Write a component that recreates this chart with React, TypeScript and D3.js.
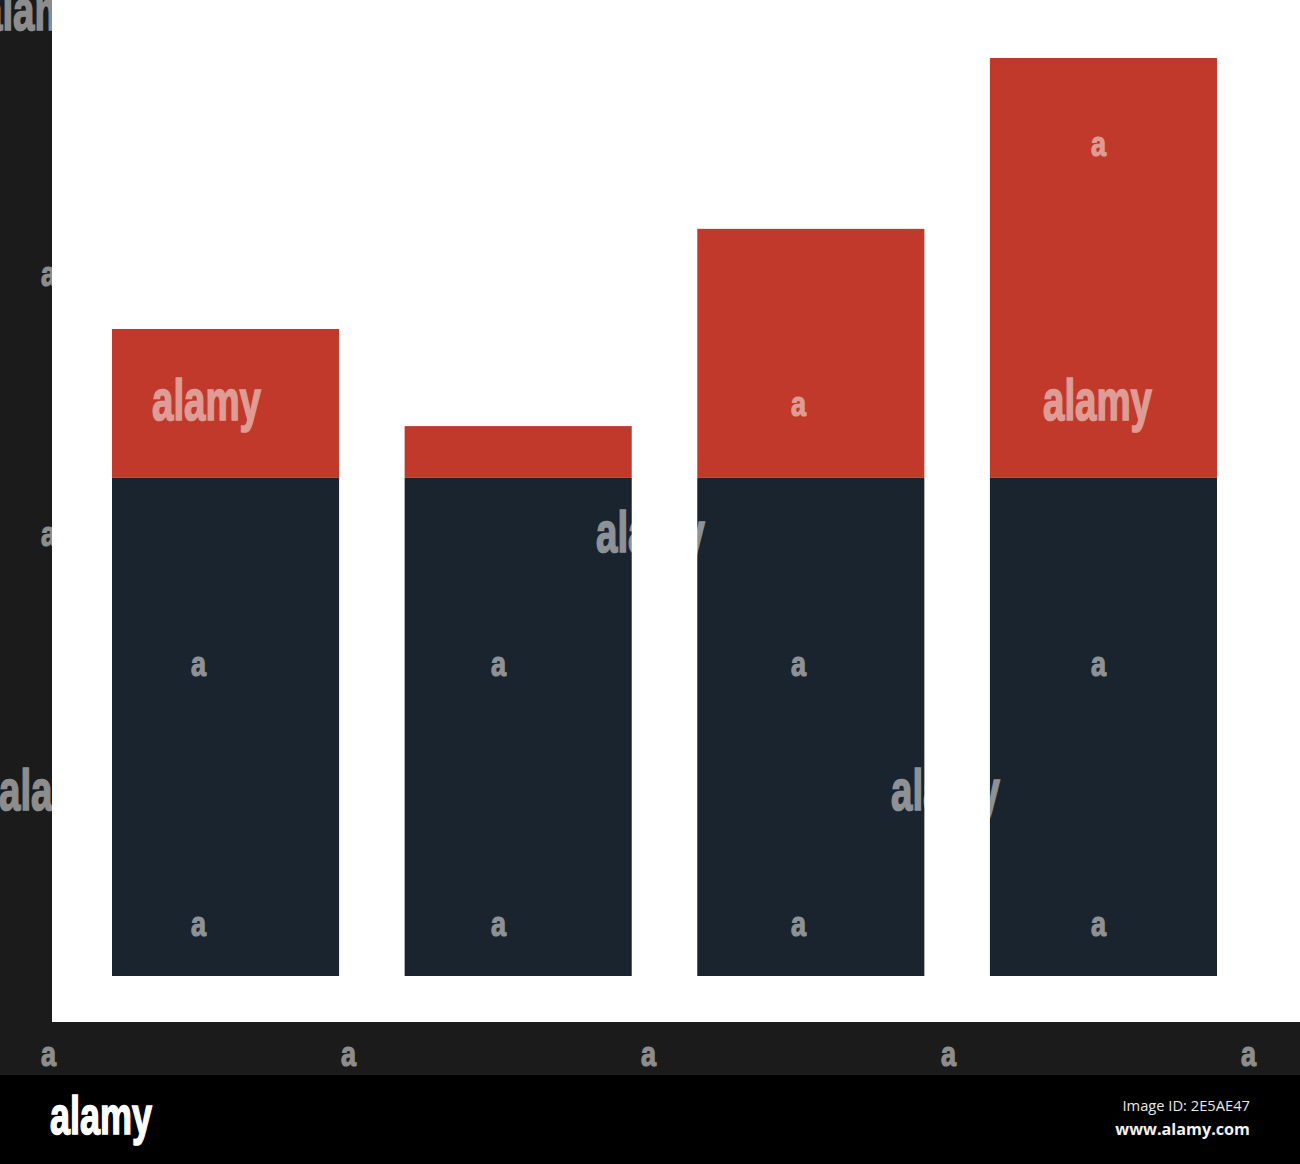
import React from 'react'

import * as d3 from 'd3'

const categories = ['A', 'B', 'C', 'D']
const baseValues = [100, 100, 100, 100]
const topValues = [29.9, 10.4, 50, 84.3]

const width = 1300
const height = 1164

const x = d3.scaleBand<string>().domain(categories).range([112, 1217]).paddingInner(0.224).paddingOuter(0)
const y = d3.scaleLinear().domain([0, 184.3]).range([976, 58])

const stack = d3.stack<any>().keys(['base', 'top'])
const rows = categories.map((c, i) => ({ cat: c, base: baseValues[i], top: topValues[i] }))
const layers = stack(rows)
const colors = ['#1a242e', '#c0392b']

// watermark stamps, white at half opacity so they vanish on the white background
const bigMarks = [
  [152, 420],
  [1043, 420],
  [596, 552],
  [891, 810],
  [-1, 810],
  [-19, 30],
]
const smallMarks = [
  [1091, 156],
  [791, 416],
  [41, 286],
  [41, 546],
  [191, 676],
  [491, 676],
  [791, 676],
  [1091, 676],
  [191, 936],
  [491, 936],
  [791, 936],
  [1091, 936],
  [41, 1066],
  [341, 1066],
  [641, 1066],
  [941, 1066],
  [1241, 1066],
]

const narrow = '"Liberation Sans Narrow", "Liberation Sans", sans-serif'

const App: React.FC = () => {
  return (
    <svg
      width={width}
      height={height}
      viewBox={`0 0 ${width} ${height}`}
      style={{ position: 'absolute', left: 0, top: 0 }}
    >
      <rect x={0} y={0} width={width} height={height} fill="#fff" />

      {layers.map((layer, i) => (
        <g key={layer.key} fill={colors[i]}>
          {layer.map((d) => (
            <rect
              key={d.data.cat}
              x={x(d.data.cat)}
              y={y(d[1])}
              width={x.bandwidth()}
              height={y(d[0]) - y(d[1])}
            />
          ))}
        </g>
      ))}

      {/* axes */}
      <rect x={0} y={0} width={52} height={1075} fill="#1b1b1b" />
      <rect x={0} y={1022} width={width} height={53} fill="#1b1b1b" />
      <rect x={0} y={1075} width={width} height={89} fill="#000" />

      <g fill="#fff" stroke="#fff" fontFamily={narrow} fontWeight="bold">
        {bigMarks.map(([mx, my], i) => (
          <text
            key={i}
            x={mx}
            y={my}
            opacity={0.5}
            strokeWidth={1.6}
            fontSize={58}
            textLength={109}
            lengthAdjust="spacingAndGlyphs"
          >
            alamy
          </text>
        ))}
        {smallMarks.map(([mx, my], i) => (
          <text
            key={i}
            x={mx}
            y={my}
            opacity={0.5}
            strokeWidth={1.2}
            fontSize={35}
            textLength={15}
            lengthAdjust="spacingAndGlyphs"
          >
            a
          </text>
        ))}
      </g>

      <text
        x={50}
        y={1134}
        fill="#fff"
        stroke="#fff"
        strokeWidth={1.6}
        fontFamily={narrow}
        fontWeight="bold"
        fontSize={54}
        textLength={102}
        lengthAdjust="spacingAndGlyphs"
      >
        alamy
      </text>
      <text x={1250} y={1111} fill="#e8e8e8" textAnchor="end" fontFamily='"Open Sans", sans-serif' fontSize={14.7}>
        Image ID: 2E5AE47
      </text>
      <text
        x={1250}
        y={1135}
        fill="#f2f2f2"
        textAnchor="end"
        fontFamily='"Open Sans", sans-serif'
        fontWeight="bold"
        fontSize={16.2}
      >
        www.alamy.com
      </text>
    </svg>
  )
}

export default App
